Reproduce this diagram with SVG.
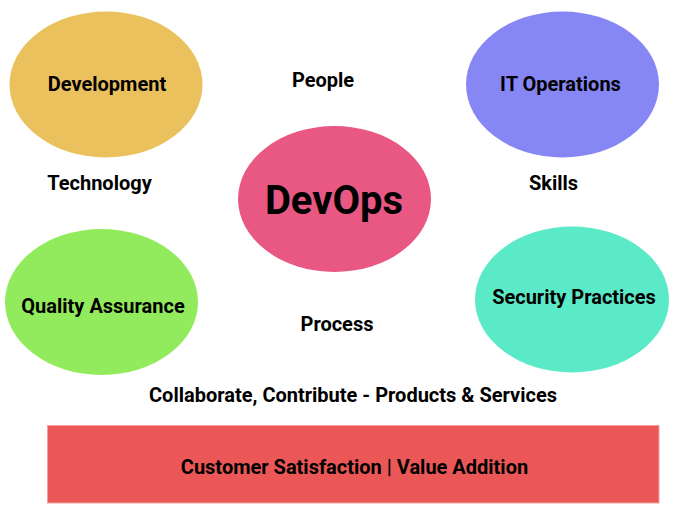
<svg xmlns="http://www.w3.org/2000/svg" width="677" height="516" viewBox="0 0 677 516">
<style>
text{font-family:Roboto,"Liberation Sans",sans-serif;font-weight:bold;fill:#000;text-anchor:middle}
.t{font-size:20px}
.big{font-size:40px}
</style>
<rect width="677" height="516" fill="#fff"/>
<g id="development"><ellipse cx="106" cy="84.5" rx="96.5" ry="73" fill="#EAC15C"/><text class="t" x="107" y="91">Development</text></g>
<g id="it-operations"><ellipse cx="562.5" cy="84.5" rx="96.5" ry="73" fill="#8786F5"/><text class="t" x="560.5" y="91">IT Operations</text></g>
<g id="devops"><ellipse cx="334.5" cy="199" rx="96.5" ry="73" fill="#E95882"/><text class="big" x="334" y="213.5">DevOps</text></g>
<g id="quality-assurance"><ellipse cx="101.5" cy="302" rx="96.5" ry="73" fill="#92EB5C"/><text class="t" x="103" y="313">Quality Assurance</text></g>
<g id="security-practices"><ellipse cx="572" cy="299.5" rx="97" ry="73" fill="#5BEAC7"/><text class="t" x="574" y="304">Security Practices</text></g>
<g id="people"><text class="t" x="323" y="87">People</text></g>
<g id="technology"><text class="t" x="99.5" y="190">Technology</text></g>
<g id="skills"><text class="t" x="553.5" y="190">Skills</text></g>
<g id="process"><text class="t" x="337" y="331">Process</text></g>
<g id="collaborate"><text class="t" x="353" y="402">Collaborate, Contribute - Products &amp; Services</text></g>
<g id="customer"><rect x="47.5" y="425.5" width="611.5" height="77.5" fill="#EB5757" stroke="#F5A0A0" stroke-width="1"/><text class="t" x="354.5" y="474">Customer Satisfaction | Value Addition</text></g>
<g id="connectors"></g>
</svg>
